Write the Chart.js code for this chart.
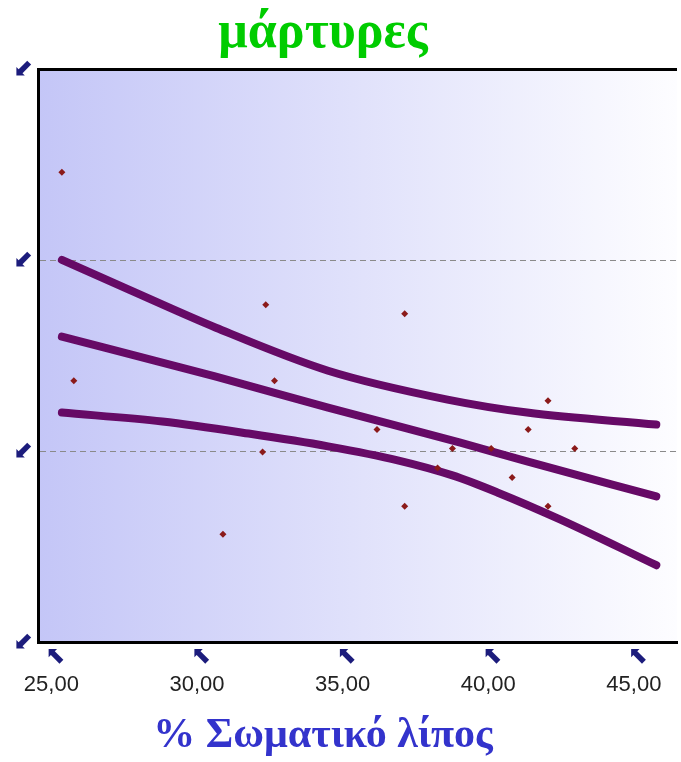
<!DOCTYPE html>
<html lang="el">
<head>
  <meta charset="UTF-8">
  <title>μάρτυρες</title>
  <script src="https://cdn.jsdelivr.net/npm/chart.js"></script>
  <style>
    body {
      margin: 0;
      background: #ffffff;
    }
    canvas {
      display: block;
    }
  </style>
</head>
<body>
  <canvas id="chart" width="681" height="762"></canvas>

  <script>
    // tick labels
    const xTicks = [25, 30, 35, 40, 45];
    const yTicks = [0, 10, 20, 30];

    // observations (% body fat, response)
    const pointsX = [25.36, 25.77, 30.89, 32.25, 32.36, 32.66, 36.18, 37.13, 37.13, 38.26, 38.77, 40.10, 40.82, 41.37, 42.05, 42.05, 42.97];
    const pointsY = [24.62, 13.71, 5.67, 9.97, 17.68, 13.71, 11.15, 17.21, 7.13, 9.14, 10.16, 10.16, 8.64, 11.15, 12.66, 7.13, 10.16];

    // fitted line and the two bands
    const upperX = [25.36, 27.68, 30.65, 34.50, 38.60, 41.33, 45.77];
    const upperY = [20.03, 18.46, 16.48, 14.23, 12.72, 12.04, 11.41];
    const fitX = [25.36, 30.65, 34.50, 39.04, 41.33, 45.77];
    const fitY = [16.01, 13.92, 12.30, 10.47, 9.48, 7.65];
    const lowerX = [25.36, 28.81, 31.77, 34.50, 36.89, 38.77, 40.31, 42.46, 45.77];
    const lowerY = [12.04, 11.57, 10.94, 10.27, 9.54, 8.75, 7.86, 6.45, 4.05];

    const zip = (xs, ys) => xs.map((x, i) => ({ x: x, y: ys[i] }));

    const navy = '#1c1c7c';
    const lineColor = '#660a66';

    // lavender-to-white plot background, top frame line, arrows over x ticks
    const plotDecor = {
      id: 'plotDecor',
      beforeDraw(chart) {
        const { ctx, chartArea: a } = chart;
        const g = ctx.createLinearGradient(a.left, 0, a.right, 0);
        g.addColorStop(0, 'rgb(196,198,247)');
        g.addColorStop(1, 'rgb(253,253,255)');
        ctx.save();
        ctx.fillStyle = g;
        ctx.fillRect(a.left, a.top, a.right - a.left, a.bottom - a.top);
        ctx.restore();
      },
      beforeDatasetsDraw(chart) {
        const { ctx, chartArea: a } = chart;
        ctx.save();
        ctx.strokeStyle = '#000';
        ctx.lineWidth = 3;
        ctx.beginPath();
        ctx.moveTo(a.left, a.top);
        ctx.lineTo(a.right, a.top);
        ctx.stroke();
        ctx.restore();
      },
      afterDraw(chart) {
        const { ctx } = chart;
        const xs = chart.scales.x;
        ctx.save();
        ctx.fillStyle = navy;
        ctx.font = '24px "DejaVu Sans"';
        ctx.textAlign = 'center';
        ctx.textBaseline = 'middle';
        xs.ticks.forEach(t => {
          ctx.fillText('\u2B09', xs.getPixelForValue(t.value) + 4, xs.top + 14);
        });
        ctx.restore();
      }
    };

    new Chart(document.getElementById('chart'), {
      type: 'scatter',
      data: {
        datasets: [
          {
            label: 'πάνω όριο',
            data: zip(upperX, upperY),
            showLine: true,
            borderColor: lineColor,
            borderWidth: 8,
            borderCapStyle: 'round',
            cubicInterpolationMode: 'monotone',
            pointRadius: 0,
            order: 2
          },
          {
            label: 'ευθεία',
            data: zip(fitX, fitY),
            showLine: true,
            borderColor: lineColor,
            borderWidth: 8,
            borderCapStyle: 'round',
            cubicInterpolationMode: 'monotone',
            pointRadius: 0,
            order: 2
          },
          {
            label: 'κάτω όριο',
            data: zip(lowerX, lowerY),
            showLine: true,
            borderColor: lineColor,
            borderWidth: 8,
            borderCapStyle: 'round',
            cubicInterpolationMode: 'monotone',
            pointRadius: 0,
            order: 2
          },
          {
            label: 'μάρτυρες',
            data: zip(pointsX, pointsY),
            pointStyle: 'rectRot',
            pointRadius: 3.5,
            backgroundColor: '#8b1a1a',
            borderColor: '#8b1a1a',
            borderWidth: 0,
            order: 1
          }
        ]
      },
      options: {
        responsive: false,
        animation: false,
        layout: {
          padding: { left: -39, right: -4, top: 0, bottom: 0 }
        },
        plugins: {
          legend: { display: false },
          tooltip: { enabled: false },
          title: {
            display: true,
            text: 'μάρτυρες',
            color: '#00cc00',
            font: { family: '"Liberation Serif", serif', size: 52, weight: 'bold' },
            padding: { top: 2, bottom: 5 }
          },
          subtitle: {
            display: true,
            position: 'bottom',
            text: '% Σωματικό λίπος',
            color: '#3333cc',
            font: { family: '"Liberation Serif", serif', size: 42, weight: 'bold' },
            padding: { top: 0, bottom: 1 }
          }
        },
        scales: {
          x: {
            type: 'linear',
            min: 24.54,
            max: 46.48,
            afterBuildTicks: scale => {
              scale.ticks = xTicks.map(v => ({ value: v }));
            },
            afterFit: scale => {
              scale.height = 68;
              scale.paddingLeft = 0;
              scale.paddingRight = 0;
            },
            grid: { display: false, drawTicks: false },
            border: { display: true, color: '#000', width: 3 },
            ticks: {
              padding: 29,
              color: '#222',
              font: { family: '"Liberation Sans", sans-serif', size: 22 },
              callback: v => v.toFixed(2).replace('.', ',')
            }
          },
          y: {
            type: 'linear',
            min: 0,
            max: 30,
            afterBuildTicks: scale => {
              scale.ticks = yTicks.map(v => ({ value: v }));
            },
            afterFit: scale => {
              scale.width = 77;
              scale.paddingTop = 0;
              scale.paddingBottom = 0;
            },
            grid: {
              drawTicks: false,
              color: c => (c.tick && (c.tick.value === 10 || c.tick.value === 20)) ? '#8a8a8a' : 'rgba(0,0,0,0)',
              lineWidth: 1
            },
            border: { display: true, color: '#000', width: 3, dash: [6, 4] },
            ticks: {
              padding: 5,
              color: navy,
              font: { family: '"DejaVu Sans"', size: 24 },
              callback: () => '\u2B0B'
            }
          }
        }
      },
      plugins: [plotDecor]
    });
  </script>
</body>
</html>
